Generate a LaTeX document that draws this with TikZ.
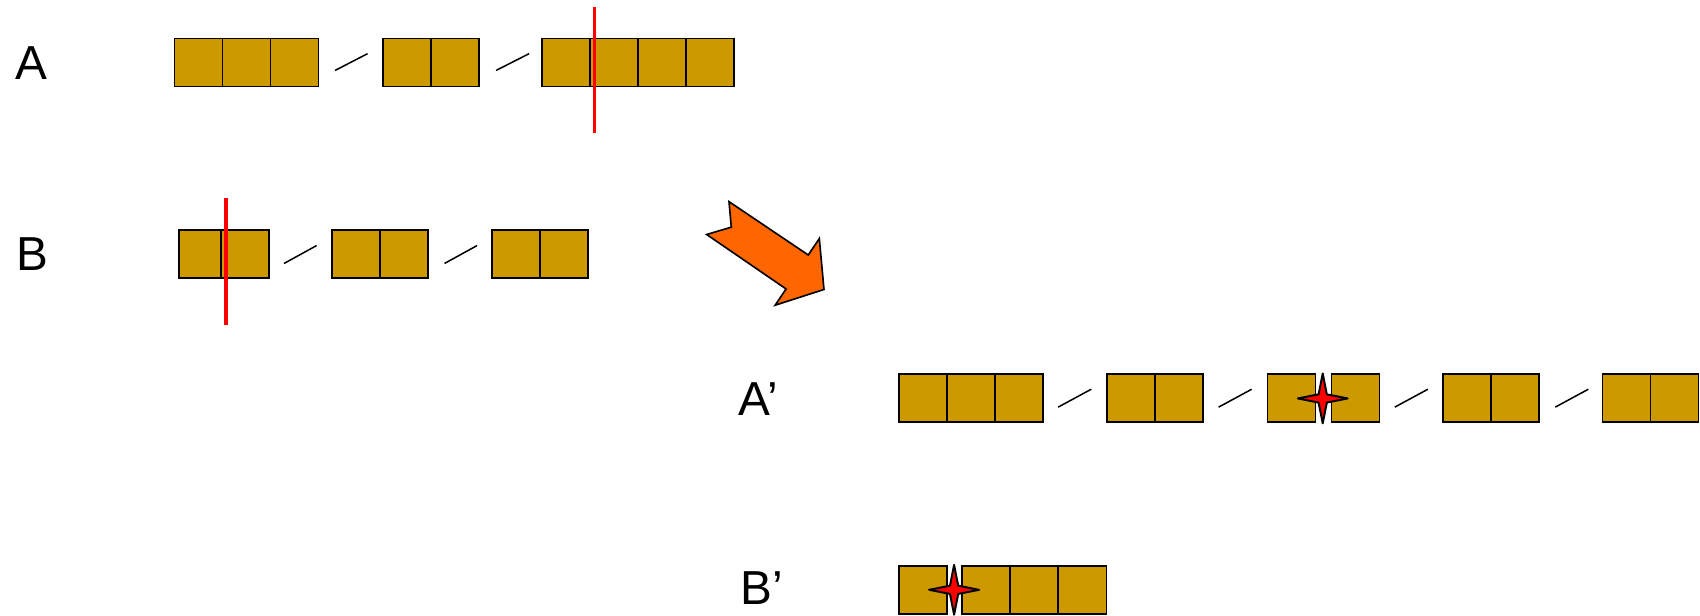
\documentclass[tikz,border=0pt]{standalone}
\usepackage{fontspec}
\setmainfont{Liberation Sans}
\usetikzlibrary{calc}
\definecolor{cellc}{RGB}{204,153,0}
\definecolor{arrowc}{RGB}{255,102,0}
\newcommand\cellgroup[4]{% name, x0, y0, n
  \foreach \i in {1,...,#4}{%
    \node[cellst] (#1\i) at ({#2+(\i-1)*44.3},#3) {};
  }%
}
\newcommand\fourstar[3]{% name, x, y
  \coordinate (#1) at (#2,#3);
  \draw[starst] ($(#1)+(23,0)$) -- ($(#1)+(3.8,-3.8)$) -- ($(#1)+(0,-23)$) -- ($(#1)+(-3.8,-3.8)$)
    -- ($(#1)+(-23,0)$) -- ($(#1)+(-3.8,3.8)$) -- ($(#1)+(0,23)$) -- ($(#1)+(3.8,3.8)$) -- cycle;
}
\begin{document}
\begin{tikzpicture}[x=0.5pt,y=-0.5pt,
  cellst/.style={draw=black,fill=cellc,line width=0.75pt,anchor=north west,inner sep=0pt,
    outer sep=0pt,minimum width=22.15pt,minimum height=22.25pt},
  cutline/.style={draw=red,line width=1.5pt},
  linkst/.style={draw=black,line width=0.7pt},
  lbl/.style={anchor=base west,inner sep=0pt,font=\fontsize{22}{26}\selectfont},
  starst/.style={draw=black,fill=red,line width=0.9pt,line join=round},
  bigarrow/.style={draw=black,fill=arrowc,line width=0.75pt,line join=miter}]
\useasboundingbox (0,0) rectangle (1568,568);

% labels
\node[lbl] (lA) at (13.5,72.9) {A};
\node[lbl] (lB) at (15,249.7) {B};
\node[lbl] (lA2) at (681,382.8) {A’};
\node[lbl] (lB2) at (683,558) {B’};

% row A
\cellgroup{aa}{161}{35.4}{3}
\cellgroup{ab}{353}{35.4}{2}
\cellgroup{ac}{500}{35.4}{4}
\coordinate (sa1s) at (309,65); \coordinate (sa1e) at (339,49.5);
\coordinate (sa2s) at (457.5,65); \coordinate (sa2e) at (488,49.5);
\draw[linkst] (sa1s) -- (sa1e);
\draw[linkst] (sa2s) -- (sa2e);
\coordinate (ca1) at (548.5,6); \coordinate (ca2) at (548.5,123);
\draw[cutline] (ca1) -- (ca2);

% row B
\node[cellst,minimum width=19.5pt] (ba1) at (165,212) {};
\node[cellst] (ba2) at (204,212) {};
\cellgroup{bb}{306}{212}{2}
\cellgroup{bc}{454}{212}{2}
\coordinate (sb1s) at (262,243); \coordinate (sb1e) at (292,226.5);
\coordinate (sb2s) at (410,243); \coordinate (sb2e) at (440,226.5);
\draw[linkst] (sb1s) -- (sb1e);
\draw[linkst] (sb2s) -- (sb2e);
\coordinate (cb1) at (208.5,183); \coordinate (cb2) at (208.5,300);
\draw[cutline] (cb1) -- (cb2);

% big arrow
\draw[bigarrow] (672.4,186) -- (745.5,235.2) -- (755.7,220) -- (760,267) -- (715,281.5)
  -- (725,266.5) -- (651.8,216.3) -- (674.5,209.5) -- cycle;

% row A'
\cellgroup{pa}{829}{345}{3}
\cellgroup{pb}{1021}{345}{2}
\node[cellst] (pc1) at (1169,345) {};
\node[cellst] (pc2) at (1228,345) {};
\cellgroup{pd}{1331}{345}{2}
\cellgroup{pe}{1478}{345}{2}
\coordinate (sp1s) at (976,375.5); \coordinate (sp1e) at (1006.5,359);
\coordinate (sp2s) at (1124,375.5); \coordinate (sp2e) at (1154.5,359);
\coordinate (sp3s) at (1286.5,375.5); \coordinate (sp3e) at (1317,359);
\coordinate (sp4s) at (1434.5,375.5); \coordinate (sp4e) at (1465,359);
\draw[linkst] (sp1s) -- (sp1e);
\draw[linkst] (sp2s) -- (sp2e);
\draw[linkst] (sp3s) -- (sp3e);
\draw[linkst] (sp4s) -- (sp4e);
\fourstar{stA}{1220}{367.5}

% row B'
\node[cellst] (qa1) at (829,522) {};
\cellgroup{qb}{887.5}{522}{3}
\fourstar{stB}{880}{544}
\end{tikzpicture}
\end{document}
